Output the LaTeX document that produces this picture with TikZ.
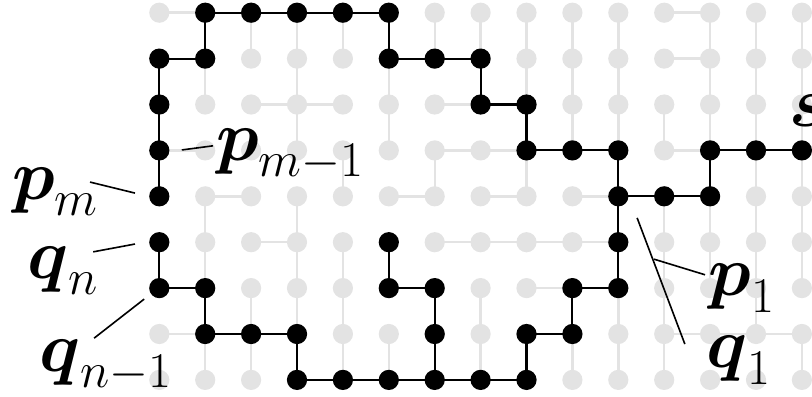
\documentclass[tikz,border=0pt]{standalone}
\usepackage{fix-cm}
\usepackage{amsmath}
\DeclareMathSizes{44}{44}{31}{22}
\definecolor{lightdot}{RGB}{227,227,227}

\begin{document}
\begin{tikzpicture}[x=1cm, y=1cm,
  gdot/.style={circle, fill=lightdot, inner sep=0pt, minimum size=0.44cm},
  bdot/.style={circle, fill=black, inner sep=0pt, minimum size=0.44cm},
  gedge/.style={lightdot, line width=1.5pt},
  bedge/.style={black, line width=1.3pt},
  ptr/.style={black, line width=1pt},
  lab/.style={inner sep=0pt, anchor=base west, font=\fontsize{44}{50}\selectfont}]

\useasboundingbox (-3.471,0.277) rectangle (14.22,-8.351);

%% === GRIGLIA: punti v-colonna-riga ===
\foreach \c in {0,...,14}
  \foreach \r in {0,...,8}
    \coordinate (v-\c-\r) at (\c,-\r);

%% albero grigio: lati orizzontali
\foreach \a/\b in {0-0/1-0, 11-0/12-0, 11-1/12-1,
                   2-2/3-2, 3-2/4-2, 6-2/7-2,
                   0-3/1-3, 6-3/7-3, 7-3/8-3, 11-3/12-3,
                   1-4/2-4, 5-4/6-4, 7-4/8-4, 9-4/10-4,
                   2-5/3-5, 6-5/7-5, 7-5/8-5, 8-5/9-5, 9-5/10-5,
                   8-6/9-6,
                   0-7/1-7, 11-7/12-7, 12-7/13-7, 13-7/14-7}
  \draw[gedge] (v-\a) -- (v-\b);

%% albero grigio: lati verticali
\foreach \a/\b in {1-1/1-2, 1-4/1-5, 1-5/1-6, 1-7/1-8,
                   2-0/2-1, 2-6/2-7, 2-7/2-8,
                   3-0/3-1, 3-1/3-2, 3-2/3-3, 3-4/3-5, 3-5/3-6, 3-6/3-7,
                   4-0/4-1, 4-3/4-4, 4-5/4-6, 4-6/4-7, 4-7/4-8,
                   5-1/5-2, 5-2/5-3, 5-7/5-8,
                   6-0/6-1, 6-3/6-4,
                   7-0/7-1, 7-6/7-7, 7-7/7-8,
                   8-0/8-1, 8-1/8-2, 8-3/8-4,
                   9-0/9-1, 9-1/9-2, 9-2/9-3, 9-7/9-8,
                   10-0/10-1, 10-1/10-2, 10-2/10-3, 10-6/10-7, 10-7/10-8,
                   11-2/11-3, 11-4/11-5, 11-5/11-6, 11-6/11-7, 11-7/11-8,
                   12-0/12-1, 12-1/12-2, 12-2/12-3, 12-4/12-5, 12-5/12-6,
                   13-0/13-1, 13-1/13-2, 13-2/13-3, 13-3/13-4, 13-4/13-5,
                   13-5/13-6, 13-6/13-7,
                   14-0/14-1, 14-1/14-2, 14-2/14-3, 14-3/14-4, 14-4/14-5,
                   14-5/14-6, 14-7/14-8}
  \draw[gedge] (v-\a) -- (v-\b);

\foreach \c in {0,...,14}
  \foreach \r in {0,...,8}
    \node[gdot] (g-\c-\r) at (v-\c-\r) {};

%% === CAMMINO P: da s a p_m ===
\draw[bedge] (v-14-3) -- (v-13-3) -- (v-12-3) -- (v-12-4) -- (v-11-4) -- (v-10-4)
  -- (v-10-3) -- (v-9-3) -- (v-8-3) -- (v-8-2) -- (v-7-2) -- (v-7-1) -- (v-6-1)
  -- (v-5-1) -- (v-5-0) -- (v-4-0) -- (v-3-0) -- (v-2-0) -- (v-1-0) -- (v-1-1)
  -- (v-0-1) -- (v-0-2) -- (v-0-3) -- (v-0-4);

%% === CAMMINO Q: da q_1 a q_n ===
\draw[bedge] (v-10-4) -- (v-10-5) -- (v-10-6) -- (v-9-6) -- (v-9-7) -- (v-8-7)
  -- (v-8-8) -- (v-7-8) -- (v-6-8) -- (v-5-8) -- (v-4-8) -- (v-3-8) -- (v-3-7)
  -- (v-2-7) -- (v-1-7) -- (v-1-6) -- (v-0-6) -- (v-0-5);
\draw[bedge] (v-6-8) -- (v-6-7) -- (v-6-6) -- (v-5-6) -- (v-5-5);

\foreach \p in {14-3, 13-3, 12-3, 12-4, 11-4, 10-4, 10-3, 9-3, 8-3, 8-2, 7-2,
                7-1, 6-1, 5-1, 5-0, 4-0, 3-0, 2-0, 1-0, 1-1, 0-1, 0-2, 0-3, 0-4,
                10-5, 10-6, 9-6, 9-7, 8-7, 8-8, 7-8, 6-8, 5-8, 4-8, 3-8, 3-7,
                2-7, 1-7, 1-6, 0-6, 0-5, 6-7, 6-6, 5-6, 5-5}
  \node[bdot] (b-\p) at (v-\p) {};

%% === ETICHETTE ===
\node[lab] (lab-s)   at (13.72,-2.49) {$\boldsymbol{s}$};
\node[lab] (lab-pm1) at (1.23,-3.21)  {$\boldsymbol{p}_{m-1}$};
\node[lab] (lab-pm)  at (-3.21,-4.06) {$\boldsymbol{p}_{m}$};
\node[lab] (lab-qn)  at (-2.88,-5.78) {$\boldsymbol{q}_{n}$};
\node[lab] (lab-qn1) at (-2.62,-7.81) {$\boldsymbol{q}_{n-1}$};
\node[lab] (lab-p1)  at (11.96,-6.17) {$\boldsymbol{p}_{1}$};
\node[lab] (lab-q1)  at (11.91,-7.74) {$\boldsymbol{q}_{1}$};

\coordinate (pm1-a) at (0.49,-2.99);  \coordinate (pm1-b) at (1.17,-2.90);
\coordinate (pm-a)  at (-1.51,-3.69); \coordinate (pm-b)  at (-0.53,-3.93);
\coordinate (qn-a)  at (-1.44,-5.21); \coordinate (qn-b)  at (-0.53,-5.04);
\coordinate (qn1-a) at (-1.42,-7.09); \coordinate (qn1-b) at (-0.33,-6.24);
\coordinate (q1-a)  at (11.45,-7.22); \coordinate (q1-b)  at (10.41,-4.47);
\coordinate (p1-a)  at (11.89,-5.71); \coordinate (p1-b)  at (10.78,-5.37);

\draw[ptr] (pm1-a) -- (pm1-b);
\draw[ptr] (pm-a) -- (pm-b);
\draw[ptr] (qn-a) -- (qn-b);
\draw[ptr] (qn1-a) -- (qn1-b);
\draw[ptr] (q1-a) -- (q1-b);
\draw[ptr] (p1-a) -- (p1-b);

\end{tikzpicture}
\end{document}
